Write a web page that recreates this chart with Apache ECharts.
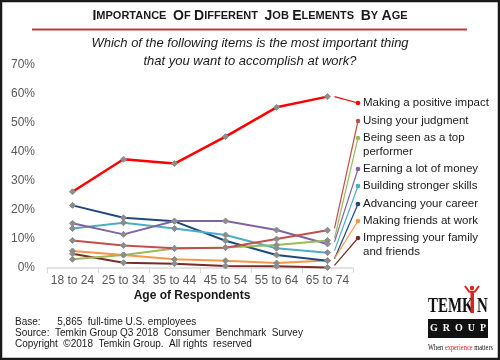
<!DOCTYPE html>
<html><head><meta charset="utf-8">
<script src="https://cdn.jsdelivr.net/npm/echarts@6/dist/echarts.min.js"></script>
<style>html,body{margin:0;padding:0;background:#fff}#c{width:500px;height:360px}</style>
</head><body><div id="c"></div>
<script>
var categories = ['18 to 24','25 to 34','35 to 44','45 to 54','55 to 64','65 to 74'];
var yTicks = [0,10,20,30,40,50,60,70];
var seriesNames = ['Making a positive impact','Using your judgment','Being seen as a top\nperformer','Earning a lot of money','Building stronger skills','Advancing your career','Making friends at work','Impressing your family\nand friends'];
var positiveImpact = [26.3,37.5,36.0,45.3,55.4,59.1];
var usingJudgment = [9.5,7.8,6.8,7.0,10.0,13.0];
var topPerformer = [3.0,4.5,6.7,7.1,7.9,9.5];
var lotOfMoney = [15.4,11.6,16.2,16.2,13.1,8.3];
var strongerSkills = [13.6,15.6,13.6,11.4,6.8,5.3];
var advancingCareer = [21.6,17.3,16.1,9.4,4.5,2.5];
var makingFriends = [5.9,4.5,3.0,2.5,1.7,2.6];
var impressingFamily = [4.9,1.8,1.5,0.7,0.6,0.2];
var allValues = [positiveImpact,usingJudgment,topPerformer,lotOfMoney,strongerSkills,advancingCareer,makingFriends,impressingFamily];
var colors = ['#ff0000','#c0504d','#9bbb59','#8064a2','#4bacc6','#1f497d','#f79646','#772c2a'];
var labelY = [103,121,138,169,186,204,221,238];

var chart = echarts.init(document.getElementById('c'));
var series = allValues.map(function(v,i){
  return {
    type:'line', name:seriesNames[i], data:v, z: 10 - i,
    lineStyle:{color:colors[i], width: i===0?2.5:2},
    symbol:'diamond', symbolSize:6,
    itemStyle:{color:'#8c8c8c', borderColor:'#8c8c8c'},
    emphasis:{disabled:true}, animation:false
  };
});
var F = 'Liberation Sans, Arial, sans-serif';
chart.setOption({
  animation:false,
  textStyle:{fontFamily:F},
  grid:{left:47,right:147,top:65,bottom:92},
  xAxis:{type:'category',data:categories,boundaryGap:true,
    axisLine:{lineStyle:{color:'#d9d9d9',width:1.5}},
    axisTick:{show:true,length:5,lineStyle:{color:'#d9d9d9'}},
    axisLabel:{color:'#595959',fontSize:12,margin:7,interval:0,fontFamily:F}},
  yAxis:{type:'value',min:yTicks[0],max:yTicks[yTicks.length-1],interval:10,
    axisLine:{show:false},axisTick:{show:false},splitLine:{show:false},
    axisLabel:{color:'#595959',fontSize:12,margin:12,fontFamily:F,formatter:function(v){return v+'%';}}},
  series:series
});

var g = [];
g.push({type:'rect',shape:{x:1,y:1,width:498,height:358},style:{fill:'none',stroke:'#1a1a1a',lineWidth:2.5},z:100});
g.push({type:'text',x:250,y:16,style:{
  text:'{b|I}{s|MPORTANCE}  {b|O}{s|F} {b|D}{s|IFFERENT}  {b|J}{s|OB} {b|E}{s|LEMENTS}  {b|B}{s|Y} {b|A}{s|GE}',
  align:'center',verticalAlign:'middle',
  rich:{b:{fontSize:14,fontWeight:'bold',fill:'#1a1a1a',fontFamily:F},s:{fontSize:11,fontWeight:'bold',fill:'#1a1a1a',fontFamily:F}}}});
g.push({type:'line',shape:{x1:32,y1:29.5,x2:467,y2:29.5},style:{stroke:'#b83b3b',lineWidth:2}});
g.push({type:'text',x:250,y:43,style:{text:'Which of the following items is the most important thing',align:'center',verticalAlign:'middle',font:'italic 13px '+F,fill:'#1a1a1a'}});
g.push({type:'text',x:250,y:61,style:{text:'that you want to accomplish at work?',align:'center',verticalAlign:'middle',font:'italic 13px '+F,fill:'#1a1a1a'}});
g.push({type:'text',x:192,y:296,style:{text:'Age of Respondents',align:'center',verticalAlign:'middle',font:'bold 12px '+F,fill:'#1a1a1a'}});
g.push({type:'text',x:15,y:322,style:{text:'Base:      5,865  full-time U.S. employees',verticalAlign:'middle',font:'10px '+F,fill:'#1a1a1a'}});
g.push({type:'text',x:15,y:333,style:{text:'Source:  Temkin Group Q3 2018  Consumer  Benchmark  Survey',verticalAlign:'middle',font:'10px '+F,fill:'#1a1a1a'}});
g.push({type:'text',x:15,y:344,style:{text:'Copyright  \u00a92018  Temkin Group.  All rights  reserved',verticalAlign:'middle',font:'10px '+F,fill:'#1a1a1a'}});

allValues.forEach(function(v,i){
  var last = v.length-1;
  var p = chart.convertToPixel({seriesIndex:i},[last,v[last]]);
  var sx = p[0]+7, sy = (i===0)? p[1] : p[1]-2;
  var ex = 358, ey = labelY[i];
  g.push({type:'line',shape:{x1:sx,y1:sy,x2:ex,y2:ey},style:{stroke:colors[i],lineWidth:1.2},z:5});
  g.push({type:'circle',shape:{cx:ex,cy:ey,r:2.3},style:{fill:colors[i]},z:6});
  g.push({type:'text',x:363,y:ey-6.5,style:{text:seriesNames[i],verticalAlign:'top',font:'11.5px '+F,fill:'#1a1a1a',lineHeight:13.5},z:6});
});

// Logo
var SF = '"Liberation Serif", "DejaVu Serif", serif';
g.push({type:'text',x:428,y:306,scaleX:0.68,style:{text:'TEMK',verticalAlign:'middle',font:'bold 22px '+SF,fill:'#111'}});
g.push({type:'text',x:477,y:306,scaleX:0.68,style:{text:'N',verticalAlign:'middle',font:'bold 22px '+SF,fill:'#111'}});
g.push({type:'circle',shape:{cx:472,cy:288,r:2.2},style:{fill:'#d22'}});
g.push({type:'polyline',shape:{points:[[465,286],[469,291.5],[472,292],[475,291.5],[479,286]]},style:{stroke:'#d22',lineWidth:2,fill:'none'}});
g.push({type:'rect',shape:{x:470.5,y:292,width:3.5,height:21},style:{fill:'#d22'}});
g.push({type:'rect',shape:{x:428,y:319,width:60,height:19},style:{fill:'#111'}});
g.push({type:'text',x:458,y:328.5,style:{text:'G  R  O  U  P',align:'center',verticalAlign:'middle',font:'bold 10px '+SF,fill:'#fff'}});
g.push({type:'text',x:428,y:348,scaleX:0.8,style:{text:'{a|When }{b|experience}{a| matters}',verticalAlign:'middle',
  rich:{a:{fontSize:8,fill:'#111',fontFamily:SF},b:{fontSize:8,fill:'#d22',fontFamily:SF}}}});

chart.setOption({graphic:{elements:g}});
</script></body></html>
